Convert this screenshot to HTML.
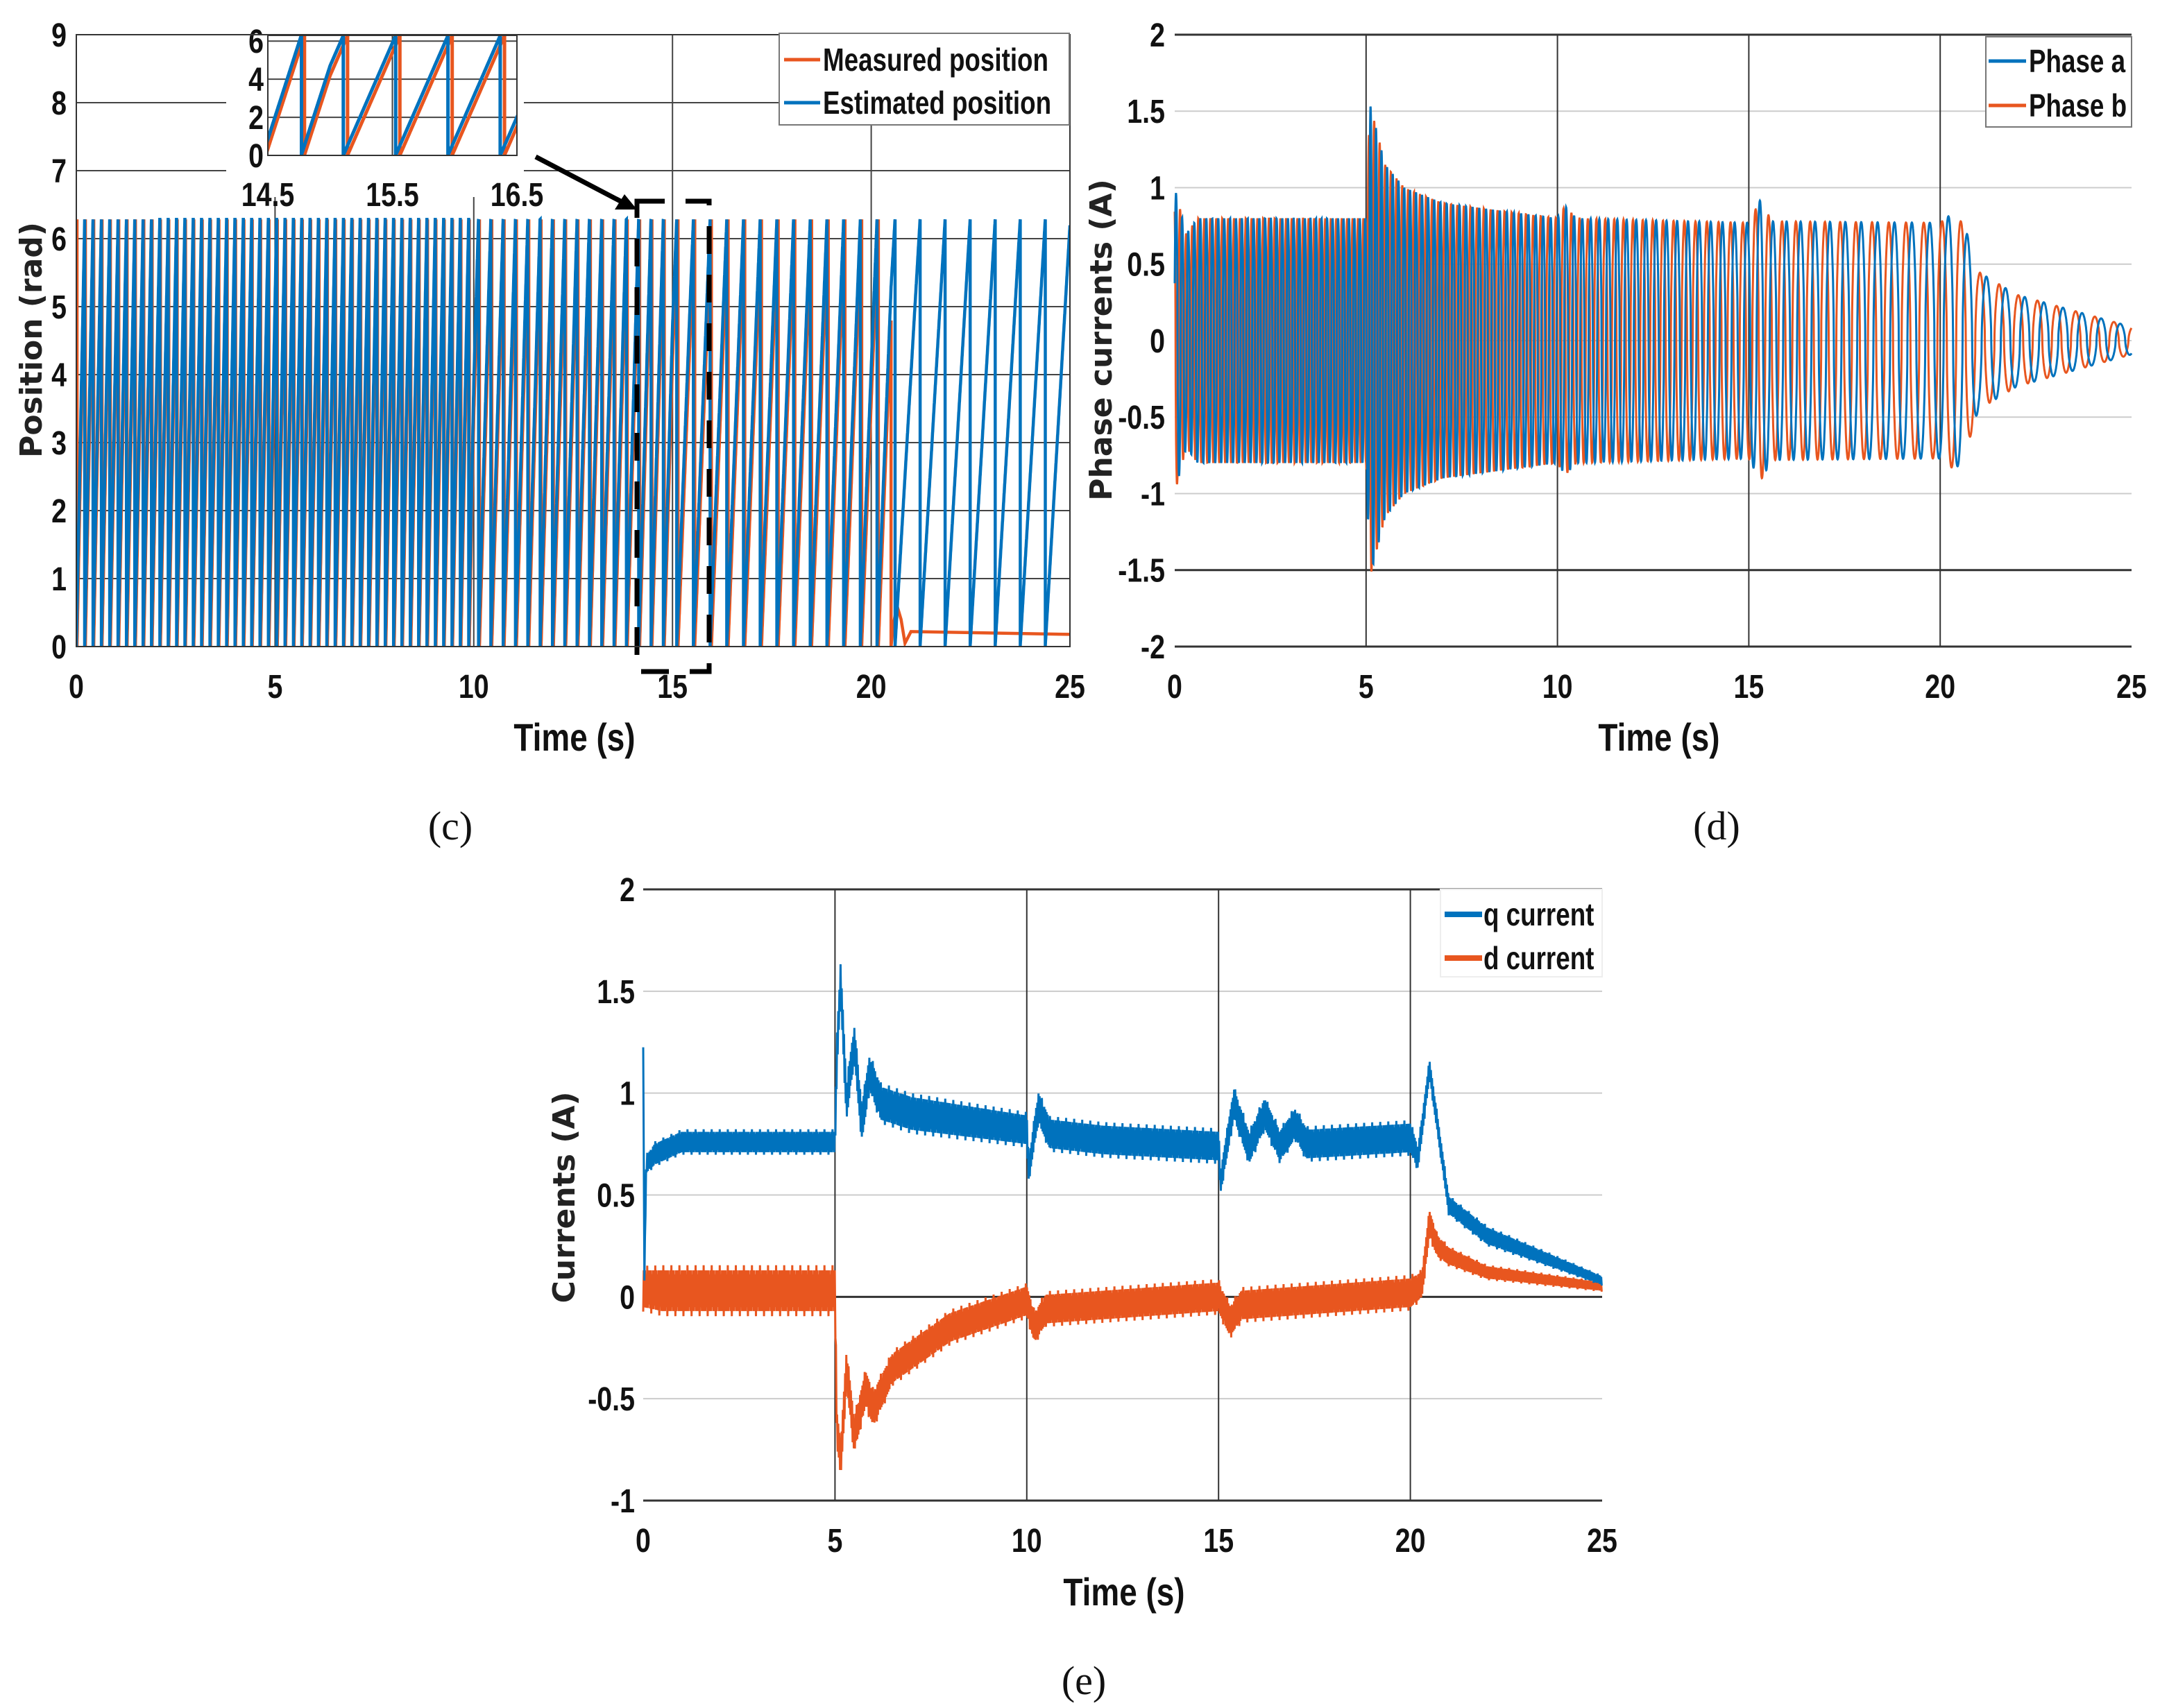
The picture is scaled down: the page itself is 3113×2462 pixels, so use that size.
<!DOCTYPE html>
<html><head><meta charset="utf-8"><style>
html,body{margin:0;padding:0;background:#fff;}
svg{display:block;}
.tk{font-family:"Liberation Sans",sans-serif;font-weight:bold;font-size:48px;fill:#111;}
.lg{font-family:"Liberation Sans",sans-serif;font-weight:bold;font-size:46px;fill:#111;}
.yl{font-family:"DejaVu Sans","Liberation Sans",sans-serif;font-weight:bold;font-size:44px;fill:#222;}
.xl{font-family:"Liberation Sans",sans-serif;font-weight:bold;font-size:56px;fill:#111;}
.cap{font-family:"Liberation Serif",serif;font-size:58px;fill:#111;}
</style></head><body>
<svg id="fig" width="3113" height="2462" viewBox="0 0 3113 2462" xmlns="http://www.w3.org/2000/svg">
<rect width="3113" height="2462" fill="#fff"/>
<g id="gc"></g>
<g id="gd"></g>
<g id="ge"></g>
<text class="cap" x="649" y="1210" text-anchor="middle">(c)</text>
<text class="cap" x="2474" y="1210" text-anchor="middle">(d)</text>
<text class="cap" x="1562" y="2442" text-anchor="middle">(e)</text>
</svg>
<script>
// ---- data ----
const xTicks = [0,5,10,15,20,25];
const posYTicks = [0,1,2,3,4,5,6,7,8,9];
const posYLabels = ["0","1","2","3","4","5","6","7","8","9"];
const insetXTicks = [14.5,15.5,16.5];
const insetYTicks = [0,2,4,6];
// electrical period of position sawtooth per segment
const speedSegStart = [0,10,15,20.5];
const speedSegPeriod = [0.21,0.31,0.42,0.63];
const measLag = -0.08;
const measStopTime = 20.5;
const measAfterT = [20.5,20.55,20.65,20.75,20.85,21,25];
const measAfterV = [0,0.3,0.6,0.4,0.05,0.22,0.18];
// phase currents
const phYTicks = [-2,-1.5,-1,-0.5,0,0.5,1,1.5,2];
const phYLabels = ["-2","-1.5","-1","-0.5","0","0.5","1","1.5","2"];
const phEnvT = [0,0.3,0.6,5,5.1,5.5,6,7,10,10.2,10.5,15,15.3,15.6,20,20.4,20.7,21,22,25];
const phEnvA = [1.0,0.7,0.8,0.8,1.55,1.15,1.0,0.9,0.8,0.88,0.8,0.77,0.92,0.78,0.77,0.85,0.7,0.45,0.3,0.09];
const phPerT = [0,5,10,15,20.5,25];
const phPerV = [0.16,0.14,0.2,0.33,0.5,0.5];
// dq currents
const dqYTicks = [-1,-0.5,0,0.5,1,1.5,2];
const dqYLabels = ["-1","-0.5","0","0.5","1","1.5","2"];
const qT = [0,0.03,0.08,0.3,1,5,5.05,5.15,5.3,5.5,5.7,5.9,6.2,7,10,10.05,10.3,10.6,12,15,15.05,15.4,15.8,16.2,16.6,17,17.3,20,20.2,20.5,20.8,21,22,25];
const qV = [1.25,0.1,0.65,0.7,0.76,0.76,1.2,1.55,0.95,1.25,0.85,1.1,0.95,0.9,0.82,0.62,0.93,0.8,0.77,0.74,0.56,0.95,0.73,0.9,0.74,0.85,0.75,0.78,0.68,1.12,0.72,0.45,0.3,0.08];
const qHW = [0.02,0.02,0.04,0.05,0.05,0.05,0.08,0.08,0.08,0.08,0.08,0.08,0.08,0.08,0.07,0.05,0.07,0.07,0.07,0.07,0.05,0.07,0.07,0.07,0.07,0.07,0.07,0.07,0.05,0.04,0.04,0.04,0.04,0.02];
const dT = [0,0.5,5,5.05,5.15,5.3,5.5,5.8,6,6.5,8,10,10.2,10.5,15,15.3,15.6,20,20.3,20.5,20.7,21,22,25];
const dV = [0.04,0.03,0.03,-0.65,-0.8,-0.35,-0.68,-0.45,-0.55,-0.35,-0.15,-0.02,-0.15,-0.06,0.0,-0.12,-0.04,0.02,0.06,0.36,0.25,0.2,0.12,0.05];
const dHW = [0.09,0.1,0.1,0.08,0.08,0.08,0.08,0.08,0.08,0.07,0.07,0.07,0.07,0.07,0.07,0.07,0.07,0.07,0.06,0.06,0.05,0.04,0.03,0.02];

const BLUE="#0072bd", ORANGE="#e8561f", NS="http://www.w3.org/2000/svg";
function mk(parent,tag,attrs){const e=document.createElementNS(NS,tag);for(const k in attrs)e.setAttribute(k,attrs[k]);parent.appendChild(e);return e;}
function interp(T,V,t){if(t<=T[0])return V[0];for(let i=1;i<T.length;i++){if(t<=T[i]){const f=(t-T[i-1])/(T[i]-T[i-1]);return V[i-1]+f*(V[i]-V[i-1]);}}return V[V.length-1];}
function scale(d0,d1,r0,r1){return v=>r0+(v-d0)/(d1-d0)*(r1-r0);}
function ptsStr(a){return a.map(p=>p[0].toFixed(1)+","+p[1].toFixed(1)).join(" ");}

function posPhase(t){
  let c=0;
  for(let i=0;i<speedSegStart.length;i++){
    const s=speedSegStart[i], e=(i+1<speedSegStart.length)?speedSegStart[i+1]:1e9;
    if(t<=s)break;
    c+=(Math.min(t,e)-s)/speedSegPeriod[i];
  }
  return c;
}
function sawPoints(t0,t1,shift,sx,sy,stopT){
  const P=2*Math.PI,pts=[];const dt=0.002;
  let prev=null;
  for(let t=t0;t<=t1+1e-9;t+=dt){
    if(stopT!==undefined && t>stopT)break;
    const ph=posPhase(t)+shift;const fr=ph-Math.floor(ph);
    if(prev!==null && fr<prev){pts.push([sx(t),sy(P)]);pts.push([sx(t),sy(0)]);}
    pts.push([sx(t),sy(fr*P)]);prev=fr;
  }
  return pts;
}

// ===== Chart (c) =====
(function(){
  const g=document.getElementById('gc');
  const L=110,R=1542,T=50,B=932;
  const sx=scale(0,25,L,R), sy=scale(0,9,B,T);
  posYTicks.forEach((v,i)=>{
    const l=mk(g,'line',{x1:L,x2:R,y1:sy(v),y2:sy(v),stroke:'#444','stroke-width':2});
    
    const t=mk(g,'text',{x:L-14,y:sy(v)+17,'text-anchor':'end',class:'tk'});t.textContent=posYLabels[i];
    
  });
  xTicks.forEach(v=>{
    const l=mk(g,'line',{x1:sx(v),x2:sx(v),y1:T,y2:B,stroke:'#444','stroke-width':2});
    
    const t=mk(g,'text',{x:sx(v),y:1006,'text-anchor':'middle',class:'tk'});t.textContent=v;
    
  });
  const clip=mk(g,'clipPath',{id:'cc'});mk(clip,'rect',{x:L,y:T,width:R-L,height:B-T});
  const meas=sawPoints(0,25,measLag,sx,sy,measStopTime);
  measAfterT.forEach((t,i)=>meas.push([sx(t),sy(measAfterV[i])]));
  const m=mk(g,'polyline',{points:ptsStr(meas),fill:'none',stroke:ORANGE,'stroke-width':4.5,'clip-path':'url(#cc)'});
  
  const est=sawPoints(0,25,0,sx,sy);
  const e=mk(g,'polyline',{points:ptsStr(est),fill:'none',stroke:BLUE,'stroke-width':4.5,'clip-path':'url(#cc)'});
  
  // inset
  const iL=386,iR=745,iT=51,iB=224;
  const bg=mk(g,'rect',{x:iL-60,y:iT-10,width:iR-iL+70,height:iB-iT+70,fill:'#fff'});
  
  const isx=scale(14.5,16.5,iL,iR), isy=scale(0,6.3,iB,iT);
  insetYTicks.forEach(v=>{
    const l=mk(g,'line',{x1:iL,x2:iR,y1:isy(v),y2:isy(v),stroke:'#444','stroke-width':2});
    
    const t=mk(g,'text',{x:iL-6,y:isy(v)+17,'text-anchor':'end',class:'tk'});t.textContent=v;
    
  });
  insetXTicks.forEach(v=>{
    const l=mk(g,'line',{x1:isx(v),x2:isx(v),y1:iT,y2:iB,stroke:'#444','stroke-width':2});
    
    const t=mk(g,'text',{x:isx(v),y:297,'text-anchor':'middle',class:'tk'});t.textContent=v;
    
  });
  const ic=mk(g,'clipPath',{id:'ic'});mk(ic,'rect',{x:iL,y:iT,width:iR-iL,height:iB-iT});
  const im=mk(g,'polyline',{points:ptsStr(sawPoints(14.4,16.6,measLag,isx,isy)),fill:'none',stroke:ORANGE,'stroke-width':5,'clip-path':'url(#ic)'});
  
  const ie=mk(g,'polyline',{points:ptsStr(sawPoints(14.4,16.6,0,isx,isy)),fill:'none',stroke:BLUE,'stroke-width':5,'clip-path':'url(#ic)'});
  
  const ib=mk(g,'rect',{x:iL,y:iT,width:iR-iL,height:iB-iT,fill:'none',stroke:'#333','stroke-width':2});
  
  const zb=mk(g,'rect',{x:918,y:290,width:104,height:678,fill:'none',stroke:'#000','stroke-width':7,'stroke-dasharray':'40,30'});
  
  const ar=mk(g,'line',{x1:772,y1:226,x2:900,y2:293,stroke:'#000','stroke-width':7});
  
  const ah=mk(g,'polygon',{points:'918,302 886,302 900,280',fill:'#000'});
  
  const fr=mk(g,'rect',{x:L,y:T,width:R-L,height:B-T,fill:'none',stroke:'#333','stroke-width':2});
  
  const lb=mk(g,'rect',{x:1123,y:48,width:418,height:132,fill:'#fff',stroke:'#777','stroke-width':2});
  
  [['Measured position',ORANGE,86],['Estimated position',BLUE,148]].forEach(([s,c,y])=>{
    const l=mk(g,'line',{x1:1130,x2:1182,y1:y,y2:y,stroke:c,'stroke-width':5});
    
    const t=mk(g,'text',{x:1186,y:y+16,class:'lg'});t.textContent=s;
    
  });
  const xl=mk(g,'text',{x:828,y:1082,'text-anchor':'middle',class:'xl'});xl.textContent='Time (s)';
  
  const yl=mk(g,'text',{x:0,y:0,'text-anchor':'middle',class:'yl',transform:'translate(60,490) rotate(-90)'});yl.textContent='Position (rad)';
  
})();

// ===== Chart (d) =====
(function(){
  const g=document.getElementById('gd');
  const L=1693,R=3072,T=50,B=932;
  const sx=scale(0,25,L,R), sy=scale(-2,2,B,T);
  phYTicks.forEach((v,i)=>{
    const dark=(v===2||v===-1.5||v===-2);
    const l=mk(g,'line',{x1:L,x2:R,y1:sy(v),y2:sy(v),stroke:dark?'#333':'#ccc','stroke-width':dark?3:2});
    
    const t=mk(g,'text',{x:L-14,y:sy(v)+17,'text-anchor':'end',class:'tk'});t.textContent=phYLabels[i];
    
  });
  xTicks.forEach(v=>{
    if(v>0&&v<25){const l=mk(g,'line',{x1:sx(v),x2:sx(v),y1:T,y2:B,stroke:'#333','stroke-width':2});
    }
    const t=mk(g,'text',{x:sx(v),y:1006,'text-anchor':'middle',class:'tk'});t.textContent=v;
    
  });
  function phase(off){
    const pts=[];let ph=0;const dt=0.005;
    for(let t=0;t<=25;t+=dt){
      ph+=dt/interp(phPerT,phPerV,t);
      const a=interp(phEnvT,phEnvA,t);
      let s=Math.sin(2*Math.PI*ph+off);s=Math.sign(s)*Math.pow(Math.abs(s),0.6);
      pts.push([sx(t),sy(a*s)]);
    }
    return pts;
  }
  const pb=mk(g,'polyline',{points:ptsStr(phase(2.094)),fill:'none',stroke:ORANGE,'stroke-width':3});
  
  const pa=mk(g,'polyline',{points:ptsStr(phase(0)),fill:'none',stroke:BLUE,'stroke-width':3});
  
  const lb=mk(g,'rect',{x:2862,y:53,width:210,height:130,fill:'#fff',stroke:'#777','stroke-width':2});
  
  [['Phase a',BLUE,88],['Phase b',ORANGE,152]].forEach(([s,c,y])=>{
    const l=mk(g,'line',{x1:2866,x2:2920,y1:y,y2:y,stroke:c,'stroke-width':5});
    
    const t=mk(g,'text',{x:2924,y:y+16,class:'lg'});t.textContent=s;
    
  });
  const xl=mk(g,'text',{x:2391,y:1082,'text-anchor':'middle',class:'xl'});xl.textContent='Time (s)';
  
  const yl=mk(g,'text',{x:0,y:0,'text-anchor':'middle',class:'yl',transform:'translate(1602,490) rotate(-90)'});yl.textContent='Phase currents (A)';
  
})();

// ===== Chart (e) =====
(function(){
  const g=document.getElementById('ge');
  const L=927,R=2309,T=1282,B=2163;
  const sx=scale(0,25,L,R), sy=scale(-1,2,B,T);
  dqYTicks.forEach((v,i)=>{
    const dark=(v===2||v===-1||v===0);
    const l=mk(g,'line',{x1:L,x2:R,y1:sy(v),y2:sy(v),stroke:dark?'#333':'#ccc','stroke-width':dark?3:2});
    
    const t=mk(g,'text',{x:L-12,y:sy(v)+17,'text-anchor':'end',class:'tk'});t.textContent=dqYLabels[i];
    
  });
  xTicks.forEach(v=>{
    if(v>0&&v<25){const l=mk(g,'line',{x1:sx(v),x2:sx(v),y1:T,y2:B,stroke:'#333','stroke-width':2});
    }
    const t=mk(g,'text',{x:sx(v),y:2237,'text-anchor':'middle',class:'tk'});t.textContent=v;
    
  });
  function band(TT,VV,HH){
    const pts=[];let k=0;
    for(let t=0;t<=25;t+=0.015){
      const m=interp(TT,VV,t),h=interp(TT,HH,t);
      const jitter=(k%7===0)?1.25:((k%5===0)?0.8:1);
      pts.push([sx(t),sy(m+(k%2?h:-h)*jitter)]);k++;
    }
    return pts;
  }
  const d=mk(g,'polyline',{points:ptsStr(band(dT,dV,dHW)),fill:'none',stroke:ORANGE,'stroke-width':3});
  
  const q=mk(g,'polyline',{points:ptsStr(band(qT,qV,qHW)),fill:'none',stroke:BLUE,'stroke-width':3});
  
  const lb=mk(g,'rect',{x:2076,y:1282,width:233,height:126,fill:'#fff',stroke:'#eee','stroke-width':2});
  
  [['q current',BLUE,1318],['d current',ORANGE,1381]].forEach(([s,c,y])=>{
    const l=mk(g,'line',{x1:2082,x2:2136,y1:y,y2:y,stroke:c,'stroke-width':8});
    
    const t=mk(g,'text',{x:2138,y:y+16,class:'lg'});t.textContent=s;
    
  });
  const xl=mk(g,'text',{x:1620,y:2314,'text-anchor':'middle',class:'xl'});xl.textContent='Time (s)';
  
  const yl=mk(g,'text',{x:0,y:0,'text-anchor':'middle',class:'yl',transform:'translate(828,1726) rotate(-90)'});yl.textContent='Currents (A)';
  
})();

// condense Matlab-style narrow fonts
(function(){
  const f={tk:0.82,lg:0.8,xl:0.82};
  document.querySelectorAll('text.tk,text.lg,text.xl').forEach(t=>{
    const k=f[t.getAttribute('class')];const x=+t.getAttribute('x'),y=+t.getAttribute('y');
    t.setAttribute('transform','translate('+x+','+y+') scale('+k+',1) translate('+(-x)+','+(-y)+')');
  });
})();
</script>
</body></html>
